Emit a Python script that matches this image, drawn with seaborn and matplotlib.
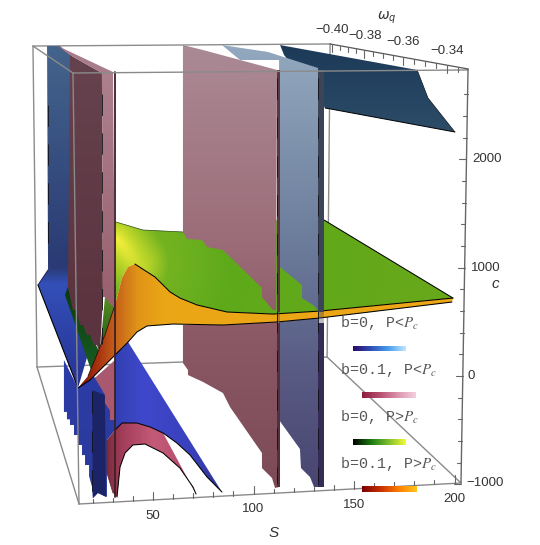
# -*- coding: utf-8 -*-
# Superficies (S, omega_q, c); S y c son las escalas del plano de la figura
import numpy as np
import matplotlib
matplotlib.use('Agg')
import matplotlib.pyplot as plt
import seaborn as sns
from matplotlib.colors import LinearSegmentedColormap
from matplotlib.patches import Polygon

# Datos de las superficies
dark_blue_s = [113.2, 181.4, 186.8, 200.2, 135.6, 121.1, 115.2]
dark_blue_c = [3056, 2826, 2567, 2253, 2475, 2826, 2964]

upper_bluegrey_s = [84.3, 107.2, 132.1, 132.1, 129.6, 124.1, 124.1, 113.2, 112.7, 93.3]
upper_bluegrey_c = [3056, 2992, 2844, 609, 656, 720, 840, 1006, 2918, 2918]
lower_bluegrey_s = [112.7, 132.1, 132.1, 130.1, 128.1, 123.6, 123.1, 112.7]
lower_bluegrey_c = [499, 536, -1025, -1025, -933, -850, -674, -406]

upper_pink_s = [64.9, 74.9, 111.7, 111.2, 109.7, 104.2, 104.2, 84.8, 76.9, 74.4, 66.9, 64.9]
upper_pink_c = [3056, 3010, 2826, 609, 609, 729, 813, 1163, 1191, 1256, 1265, 1330]
lower_pink_s = [64.9, 84.8, 111.7, 112.7, 110.7, 109.2, 104.2, 104.2, 88.3, 84.8, 74.9, 67.4, 67.4, 64.9]
lower_pink_c = [471, 471, 499, -1025, -1034, -942, -850, -711, -286, -157, -55, 9, 55, 120]

left_blue_s = [-2.7, 3.7, 9.7, 24.0, 12.7, -7.2, -2.2]
left_blue_c = [3047, 3047, 2955, 600, -111, 840, 979]
low_left_blue_s = [5.7, 5.7, 7.2, 7.2, 8.7, 8.7, 10.7, 10.7, 12.7, 12.7, 14.7, 14.7, 16.2, 16.2, 18.2, 18.2, 19.7, 20.1,
                   22.6, 27.1, 27.1, 31.1, 31.1, 21.1, 19.7, 12.7]
low_left_blue_c = [148, -332, -332, -400, -400, -452, -452, -545, -545, -637, -637, -730, -730, -822, -822, -925,
                   -1025, -1127, -1080, -1117, -591, -499, 55, -18, 28, -111]
navy_s = [19.7, 26.1, 26.6, 22.6, 20.1]
navy_c = [-129, -175, -1117, -1080, -1127]
low_strip_s = [21.1, 31.1, 31.1, 28.6, 28.6, 26.1, 26.1]
low_strip_c = [-18, 148, -406, -406, -320, -249, -175]

maroon_s = [8.7, 24.6, 25.1, 23.6, 22.1, 20.6, 18.7, 17.2, 15.2, 13.7, 11.7, 10.2, 7.7]
maroon_c = [2964, 2798, 702, 212, 286, 286, 379, 379, 471, 471, 609, 609, 822]
dark_green_s = [6.2, 19.7, 23.6, 7.7]
dark_green_c = [748, 28, 212, 822]
pink_band_s = [2.7, 30.1, 24.6, 8.7]
pink_band_c = [3047, 2807, 2798, 2964]
pink_strip_s = [24.6, 30.1, 31.1, 30.1, 26.1, 25.1]
pink_strip_c = [2798, 2807, 637, 637, 729, 729]
green_wedge_s = [26.1, 31.6, 31.1, 26.1, 22.6, 24.0]
green_wedge_c = [729, 702, 500, 379, 120, 300]

blue_curve_s = [31.1, 34.6, 42.0, 48.6, 55.0, 61.9, 68.4, 76.9, 84.3]
blue_curve_c = [-499, -434, -434, -471, -526, -619, -729, -933, -1071]
big_blue_top_s = [31.1, 37.6]
big_blue_top_c = [425, 314]

red_curve_s = [32.1, 33.6, 36.1, 40.0, 46.0, 55.0, 63.4, 69.9, 71.4]
red_curve_c = [-1117, -840, -711, -637, -628, -711, -850, -1025, -1090]
red_top_s = [27.1, 31.1, 34.6, 42.0, 48.6, 55.0, 68.4, 71.4]
red_top_c = [-591, -499, -434, -434, -471, -526, -988, -1090]
red_left_s = [30.1, 27.1]
red_left_c = [-1080, -896]

green_s = [31.6, 45.0, 64.9, 98.3, 135.1, 199.2, 133.1, 109.7, 86.8, 71.9, 63.4, 58.5, 51.0, 41.0, 37.6, 34.6, 31.1]
green_c = [1422, 1348, 1330, 1440, 1440, 720, 600, 572, 591, 656, 720, 776, 914, 1034, 1006, 905, 656]

orange_top_s = [41.0, 51.0, 58.5, 63.4, 71.9, 86.8, 109.7, 133.1, 199.2]
orange_top_c = [1034, 914, 776, 720, 656, 591, 572, 600, 720]
orange_low_s = [198.7, 133.1, 111.7, 84.8, 60.0, 47.0, 42.0, 37.6, 18.7, 12.7]
orange_low_c = [683, 536, 499, 471, 480, 462, 406, 314, -37, -111]
orange_left_s = [17.7, 26.1, 31.1, 34.6, 37.6, 41.0]
orange_left_c = [0, 379, 656, 905, 1006, 1034]

# Ejes
s_major = [50, 100, 150, 200]
s_minor = [20, 30, 40, 60, 70, 80, 90, 110, 120, 130, 140, 160, 170, 180, 190]
s_label_c = [-1293, -1228, -1191, -1136]
c_major = [2000, 1000, 0, -1000]
c_minor = [2600, 2400, 2200, 1800, 1600, 1400, 1200, 800, 600, 400, 200, -200, -400, -600, -800]
c_label_s = [208.7, 208.2, 206.2, 205.7]
c_label_y = [2004, 997, 0, -988]
c_labels = ['2000', '1000', '0', '\u22121000']
w_labels = ['\u22120.40', '\u22120.38', '\u22120.36', '\u22120.34']
w_label_s = [139.1, 155.5, 174.4, 196.3]
w_label_c = [3195, 3140, 3085, 3000]
w_major_s = [139.1, 155.0, 174.4, 196.3]
w_minor_s = [143.0, 147.0, 151.0, 159.5, 164.5, 169.4, 179.9, 185.4, 190.8, 201.7]

# Caja: pares de esquinas
box_back = [((-9.7, 3047), (138.1, 3066)), ((-9.7, 3047), (-7.7, 83)), ((138.1, 3066), (136.6, 175)),
            ((-7.7, 83), (136.6, 175))]
box_front = [((-9.7, 3047), (10.2, 2798)), ((10.2, 2798), (206.7, 2826)), ((10.2, 2798), (13.2, -1182)),
             ((-7.7, 83), (13.2, -1182)), ((136.6, 175), (203.2, -988)), ((13.2, -1182), (203.2, -988))]
right_axis = ((206.7, 2835), (203.2, -988))
top_axis = ((138.1, 3066), (206.7, 2835))

# Leyenda
legend_texts = ['b=0, P<$P_c$', 'b=0.1, P<$P_c$', 'b=0, P>$P_c$', 'b=0.1, P>$P_c$']
legend_c = [489, 55, -379, -813]
bar_s = [(149.5, 175.9), (154.0, 180.8), (149.5, 175.9), (153.8, 181.2)]
bar_c = [(231, 277), (-203, -148), (-637, -582), (-1071, -1016)]
bar_colors = [['#2a0a6a', '#3050b8', '#4aa0f0', '#c8ecff'],
              ['#8c1c3c', '#b84f70', '#dc94ae', '#f4d0de'],
              ['#000000', '#1a7a10', '#80c030', '#ffff30'],
              ['#7a0000', '#c83000', '#ff8000', '#ffc820']]

sns.set_theme(style='white')
fig, ax = plt.subplots(figsize=(5.4, 5.45), dpi=100)
ax.set_position([0, 0, 1, 1])
ax.axis('off')


def shade(s, c, stops, vertical=True, z=2):
    stops = sorted(stops, key=lambda t: t[0])
    span = c if vertical else s
    # el degradado se mantiene constante fuera de sus extremos
    lo, hi = min(stops[0][0], min(span)), max(stops[-1][0], max(span))
    stops = [(lo, stops[0][1])] + stops + [(hi, stops[-1][1])]
    cmap = LinearSegmentedColormap.from_list('g', [((v - lo) / (hi - lo), col) for v, col in stops])
    ramp = np.linspace(0, 1, 500)
    if vertical:
        im = ax.imshow(ramp.reshape(-1, 1), cmap=cmap, origin='lower', aspect='auto', zorder=z,
                       extent=[min(s) - 1, max(s) + 1, lo, hi])
    else:
        im = ax.imshow(ramp.reshape(1, -1), cmap=cmap, origin='lower', aspect='auto', zorder=z,
                       extent=[lo, hi, min(c) - 10, max(c) + 10])
    im.set_clip_path(Polygon(np.column_stack([s, c]), transform=ax.transData))


def flat(s, c, color, z=2, alpha=1.0):
    ax.fill(s, c, color=color, lw=0, zorder=z, alpha=alpha)


def edge(s, c, color='black', lw=0.75, z=20, **kw):
    sns.lineplot(x=s, y=c, sort=False, estimator=None, errorbar=None, color=color, lw=lw,
                 zorder=z, legend=False, ax=ax, **kw)


for a, b in box_back:
    edge([a[0], b[0]], [a[1], b[1]], color='#8c8c8c', lw=1.0, z=1)

# Superficie del fondo
shade(dark_blue_s, dark_blue_c, [(3056, '#1c3a58'), (2253, '#2c4c68')], z=2)
edge(dark_blue_s[3:5], dark_blue_c[3:5], lw=0.7, z=3)
edge(dark_blue_s[1:4], dark_blue_c[1:4], lw=0.4, z=3)

pink_stops = [(3056, '#ab8a95'), (1200, '#9b6c78'), (300, '#8a5864'), (-1100, '#7c4a56')]
bluegrey_stops = [(3056, '#93a9bf'), (1300, '#6d7e9c'), (0, '#585a84'), (-1100, '#474470')]

# Partes bajo la superficie verde/naranja
shade(left_blue_s, left_blue_c, [(3047, '#44648c'), (1000, '#2a3a74'), (850, '#3350b8'), (-111, '#263294')], z=3)
shade(low_left_blue_s, low_left_blue_c, [(148, '#2c3ca8'), (-1127, '#2a3a98')], z=3)
flat(navy_s, navy_c, '#1c2468', z=4)
flat(low_strip_s, low_strip_c, '#a8586f', z=4)
shade(lower_bluegrey_s, lower_bluegrey_c, bluegrey_stops, z=3)
shade(lower_pink_s, lower_pink_c, pink_stops, z=4)

big_blue_s = big_blue_top_s + blue_curve_s[::-1]
big_blue_c = big_blue_top_c + blue_curve_c[::-1]
shade(big_blue_s, big_blue_c, [(31.1, '#3240b0'), (45, '#3f48cc'), (70, '#3a40bc'), (84.3, '#2e3590')],
      vertical=False, z=5)
red_s = red_top_s + red_curve_s[::-1] + red_left_s
red_c = red_top_c + red_curve_c[::-1] + red_left_c
shade(red_s, red_c, [(27, '#7e2c3c'), (34, '#a03c58'), (50, '#c45a78'), (71.4, '#b04a6a')], vertical=False, z=6)
edge(blue_curve_s, blue_curve_c, z=7)
edge(red_curve_s, red_curve_c, z=7)
edge(red_left_s + red_top_s[:1], red_left_c + red_top_c[:1], lw=0.5, color='#5a2030', z=7)

shade(dark_green_s, dark_green_c, [(822, '#0a3a10'), (28, '#1b5d22')], z=6)
shade(maroon_s, maroon_c, [(2964, '#65434e'), (609, '#5c3440')], z=7)
flat(pink_band_s, pink_band_c, '#a87c8a', z=7)
shade(green_wedge_s, green_wedge_c, [(729, '#5a8a20'), (120, '#12501a')], z=7)
shade(pink_strip_s, pink_strip_c, [(2807, '#ad808e'), (637, '#99606f')], z=8)
edge([left_blue_s[4], left_blue_s[5]], [left_blue_c[4], left_blue_c[5]], lw=0.8, z=8)
edge(left_blue_s[5:7], left_blue_c[5:7], lw=0.7, color='#1a2050', z=8)

# Superficie verde con la cresta amarilla
gs = np.linspace(min(green_s), max(green_s), 500)
gc = np.linspace(min(green_c), max(green_c), 300)
GS, GC = np.meshgrid(gs, gc)
t = np.clip(((GS - 32.1) * 2 * 32 + (1256 - GC) * 0.108 * 23) / (32 ** 2 + 23 ** 2), 0, 1)
dist = np.hypot((GS - 32.1 - t * 7.9) * 2.01, (GC - 1256 + t * 222) * 0.108)
green_cmap = LinearSegmentedColormap.from_list(
    'verde', [(0, '#f2ee3a'), (0.04, '#bcd62a'), (0.11, '#74b320'), (0.3, '#5eaa1b'), (1, '#68a81a')])
im = ax.imshow(np.clip(dist / 320, 0, 1), cmap=green_cmap, vmin=0, vmax=1, origin='lower', aspect='auto', zorder=9,
               extent=[gs[0], gs[-1], gc[0], gc[-1]])
im.set_clip_path(Polygon(np.column_stack([green_s, green_c]), transform=ax.transData))

orange_s = orange_top_s + orange_low_s + orange_left_s
orange_c = orange_top_c + orange_low_c + orange_left_c
shade(orange_s, orange_c, [(12.7, '#7a1408'), (22, '#a83210'), (32, '#c8661a'), (42, '#e09418'),
                           (55, '#eba616'), (199.2, '#eda616')], vertical=False, z=10)
edge(orange_top_s, orange_top_c, z=11)
edge(orange_low_s, orange_low_c, z=11)
edge(orange_left_s[:3], orange_left_c[:3], lw=0.6, color='#301008', z=11)
edge(green_s[4:6], green_c[4:6], z=11)
edge(green_s[:3], green_c[:3], lw=0.5, color='#2a4a10', z=9.5)

# Partes sobre la superficie verde
shade(upper_bluegrey_s, upper_bluegrey_c, bluegrey_stops, z=12)
shade(upper_pink_s, upper_pink_c, pink_stops, z=13)

# Tiras oscuras de las paredes
for s0, s1, top, low, mid in [(111.7, 113.2, 2826, -1025, '#5a3a42'), (132.1, 135.1, 2826, -1025, '#3c4458')]:
    flat([s0, s1, s1, s0], [top, top, 590, 590], mid, z=14)
    flat([s0, s1, s1, s0], [590, 590, 490, 490], mid, z=14, alpha=0.35)
    flat([s0, s1, s1, s0], [490, 490, low, low], '#352c55' if s0 > 120 else '#55303c', z=14)
edge([30.9, 30.9], [2807, -1117], color='#3a2028', lw=1.3, z=14)

# Trazos negros interrumpidos sobre las tiras
for s0, top, low in [(111.7, 2750, -1000), (132.1, 2750, -1000), (24.6, 2600, 300), (19.9, -150, -1100), (-2.4, 2500, 1100)]:
    ax.plot([s0, s0], [top, low], color='#101018', lw=0.7, ls=(0, (22, 18)), alpha=0.85, zorder=15)

# Caja y ejes delante
for a, b in box_front:
    edge([a[0], b[0]], [a[1], b[1]], color='#8a8a8a', lw=1.0, z=16)
edge([right_axis[0][0], right_axis[1][0]], [right_axis[0][1], right_axis[1][1]], color='#666666', lw=1.0, z=16)
edge([top_axis[0][0], top_axis[1][0]], [top_axis[0][1], top_axis[1][1]], color='#555555', lw=0.9, z=16)

tick_color = '#666666'
for s_val, length in [(v, 74) for v in s_major] + [(v, 42) for v in s_minor]:
    base = np.interp(s_val, [13.2, 203.2], [-1182, -988])
    ax.plot([s_val, s_val], [base, base + length], color=tick_color, lw=0.8, zorder=16)
for c_val, length in [(v, 3.5) for v in c_major] + [(v, 2.0) for v in c_minor]:
    base = np.interp(c_val, [-988, 2835], [203.2, 206.7])
    ax.plot([base, base - length], [c_val, c_val], color=tick_color, lw=0.8, zorder=16)
for s_val, length in [(v, 74) for v in w_major_s] + [(v, 42) for v in w_minor_s]:
    base = np.interp(s_val, [138.1, 206.7], [3066, 2835])
    ax.plot([s_val, s_val], [base, base - length], color=tick_color, lw=0.8, zorder=16)

# Textos de los ejes
plt.rcParams['font.family'] = ['Liberation Sans', 'DejaVu Sans']
label_color = '#333333'
for v, y in zip(s_major, s_label_c):
    ax.text(v, y, str(v), ha='center', va='center', fontsize=9.5, color=label_color, zorder=20)
for s_pos, y, txt in zip(c_label_s, c_label_y, c_labels):
    ax.text(s_pos, y, txt, ha='left', va='center', fontsize=9.5, color=label_color, zorder=20)
for s_pos, y, txt in zip(w_label_s, w_label_c, w_labels):
    ax.text(s_pos, y, txt, ha='center', va='center', fontsize=9.5, color=label_color, zorder=20)
ax.text(110.2, -1449, 'S', style='italic', ha='center', va='center', fontsize=11, color=label_color, zorder=20)
ax.text(220.2, 850, 'c', style='italic', ha='center', va='center', fontsize=11, color=label_color, zorder=20)
ax.text(166.4, 3306, r'$\omega_q$', ha='center', va='center', fontsize=10, color=label_color, zorder=20,
        math_fontfamily='dejavusans')

# Leyenda
for txt, y, (s0, s1), (c0, c1), cols in zip(legend_texts, legend_c, bar_s, bar_c, bar_colors):
    ax.text(143.0, y, txt, family=['Liberation Mono', 'DejaVu Sans Mono'], fontsize=10.8, color='#555555',
            ha='left', va='center', zorder=21, math_fontfamily='stix')
    stops = list(zip(np.linspace(s0, s1, len(cols)), cols))
    shade([s0, s1, s1, s0], [c0, c0, c1, c1], stops, vertical=False, z=21)

ax.set_xlim(-26.1, 242.5)
ax.set_ylim(-1560.5, 3472)
fig.savefig('out.png', dpi=100)
